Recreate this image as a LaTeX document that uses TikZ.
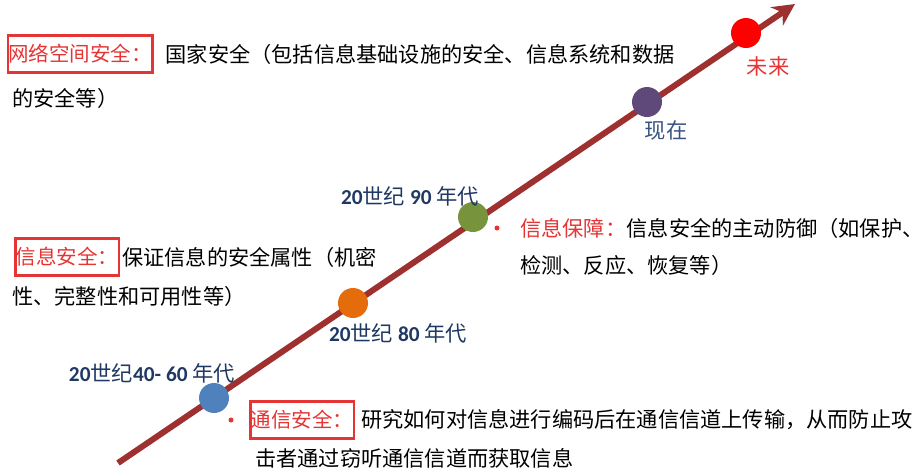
\documentclass[tikz,border=0pt]{standalone}
\usepackage{fontspec}
\setmainfont{Noto Sans CJK SC}
\newfontfamily\numfont{Carlito}
\usetikzlibrary{arrows.meta,positioning}

\definecolor{linered}{RGB}{158,48,48}
\definecolor{dotblue}{RGB}{79,129,189}
\definecolor{dotorange}{RGB}{228,108,10}
\definecolor{dotgreen}{RGB}{119,147,60}
\definecolor{dotpurple}{RGB}{95,73,122}
\definecolor{dotred}{RGB}{255,0,0}
\definecolor{eratext}{RGB}{31,56,100}
\definecolor{nowtext}{RGB}{56,82,128}
\definecolor{tagred}{RGB}{228,52,52}

\newcommand{\yr}[1]{{\numfont\bfseries #1}}

\tikzset{
  timeline/.style={line width=6pt,color=linered,-{Stealth[length=22pt,width=22pt,inset=7pt]}},
  dot/.style={circle,minimum size=30pt,inner sep=0pt},
  era/.style={text=eratext,inner sep=0pt,font=\fontsize{21.3}{25}\selectfont},
  tag/.style={draw=tagred,line width=2.5pt,text=tagred,inner xsep=0.5pt,inner ysep=9pt,font=\fontsize{20.5}{25}\selectfont},
  body/.style={anchor=west,inner sep=0pt,font=\fontsize{21.2}{25}\selectfont},
  bullet/.style={circle,fill=tagred,minimum size=5pt,inner sep=0pt},
}

\begin{document}
\begin{tikzpicture}[x=1pt,y=-1pt]
        \useasboundingbox (0,0) rectangle (924,475) ;
        % time line
        \coordinate (start) at (118,463) ;
        \coordinate (tip) at (795,4) ;
        \draw[timeline] (start) -- (tip) ;
        \node[dot,fill=dotblue] (d4060) at (214,398) {} ;
        \node[dot,fill=dotorange] (d80) at (353,303) {} ;
        \node[dot,fill=dotgreen] (d90) at (473,217) {} ;
        \node[dot,fill=dotpurple] (dnow) at (647,102) {} ;
        \node[dot,fill=dotred] (dfuture) at (746,33) {} ;
        % era labels
        \node[era] (e4060) at (152,373) {\yr{20}世纪\yr{40- 60} 年代} ;
        \node[era] (e80) at (398,333) {\yr{20}世纪 \yr{80} 年代} ;
        \node[era] (e90) at (410,196) {\yr{20}世纪 \yr{90} 年代} ;
        \node[era,text=nowtext] (enow) at (666,130) {现在} ;
        \node[era,text=tagred] (efuture) at (768,66) {未来} ;
        % cyberspace security
        \node[tag] (wl) at (80,54) {网络空间安全：} ;
        \node[body,right=12pt of wl] (wl1) {国家安全（包括信息基础设施的安全、信息系统和数据} ;
        \node[body] (wl2) at (12,98) {的安全等）} ;
        % information security
        \node[tag] (xx) at (67,257) {信息安全：} ;
        \node[body,right=2pt of xx] (xx1) {保证信息的安全属性（机密} ;
        \node[body] (xx2) at (12,296) {性、完整性和可用性等）} ;
        % information assurance
        \node[bullet] (bz0) at (497,228) {} ;
        \node[body,text=tagred] (bz) at (520,228) {信息保障：} ;
        \node[body,right=0pt of bz] (bz1) {信息安全的主动防御（如保护、} ;
        \node[body] (bz2) at (520,265) {检测、反应、恢复等）} ;
        % communication security
        \node[bullet] (tx0) at (231,420) {} ;
        \node[tag] (tx) at (302,420) {通信安全：} ;
        \node[body,right=6pt of tx] (tx1) {研究如何对信息进行编码后在通信信道上传输，从而防止攻} ;
        \node[body] (tx2) at (255,458) {击者通过窃听通信信道而获取信息} ;
\end{tikzpicture}
\end{document}
